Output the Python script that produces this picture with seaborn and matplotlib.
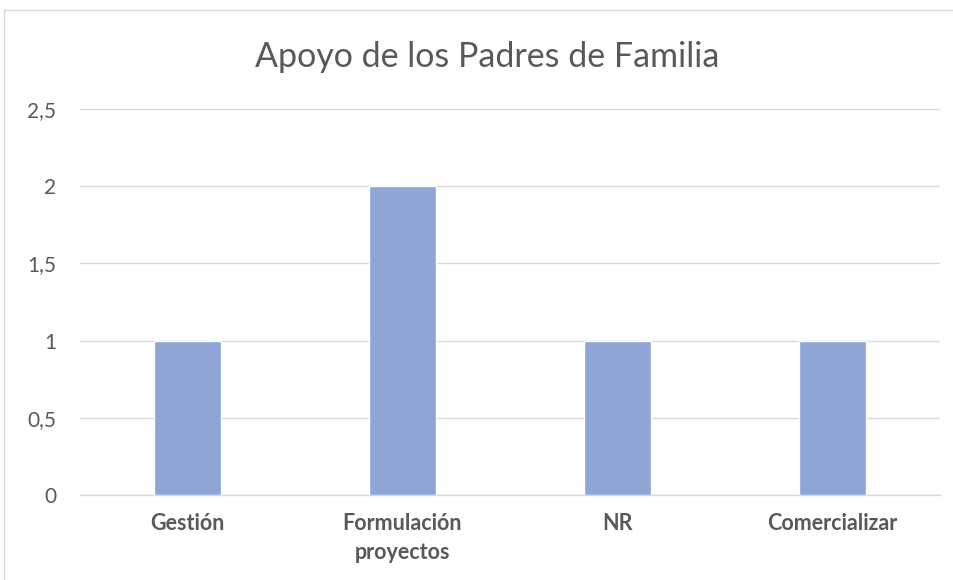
import pandas as pd
import matplotlib.pyplot as plt
import seaborn as sns
from matplotlib.patches import Rectangle

# data
categories = ["Gestión", "Formulación\nproyectos", "NR", "Comercializar"]
values = [1, 2, 1, 1]
yticks = [0, 0.5, 1, 1.5, 2, 2.5]
ytick_labels = ["0", "0,5", "1", "1,5", "2", "2,5"]

df = pd.DataFrame({"Categoria": categories, "Valor": values})

sns.set_theme(style="white")
plt.rcParams["font.family"] = ["Lato", "DejaVu Sans"]

fig = plt.figure(figsize=(9.54, 5.8), dpi=100)
ax = fig.add_axes([80 / 954, 1 - 495 / 580, 860 / 954, 386 / 580])

sns.barplot(data=df, x="Categoria", y="Valor", color="#8FA5D6",
            width=0.31, saturation=1, ax=ax, zorder=3)

ax.set_xlim(-0.5, 3.5)
ax.set_ylim(0, 2.5)
ax.set_yticks(yticks)
ax.set_yticklabels(ytick_labels)
ax.yaxis.grid(True, color="#D9D9D9", linewidth=1, zorder=0)
ax.set_xlabel("")
ax.set_ylabel("")
for s in ["top", "right", "left"]:
    ax.spines[s].set_visible(False)
ax.spines["bottom"].set_color("#D9D9D9")
ax.spines["bottom"].set_linewidth(1)
ax.tick_params(axis="y", length=0, labelsize=15, labelcolor="#595959", pad=17)
ax.tick_params(axis="x", length=0, labelsize=15.5, labelcolor="#595959", pad=13)
for lbl in ax.get_xticklabels():
    lbl.set_fontweight("bold")
    lbl.set_linespacing(1.45)

fig.text(487 / 954, 1 - 57 / 580, "Apoyo de los Padres de Familia",
         ha="center", va="center", fontsize=24.5, color="#595959")

fig.patches.append(Rectangle((4 / 954, -0.05), 1.1, 1 - 10 / 580 + 0.05,
                             transform=fig.transFigure, fill=False,
                             edgecolor="#D9D9D9", linewidth=1))

fig.savefig("out.png", dpi=100)
